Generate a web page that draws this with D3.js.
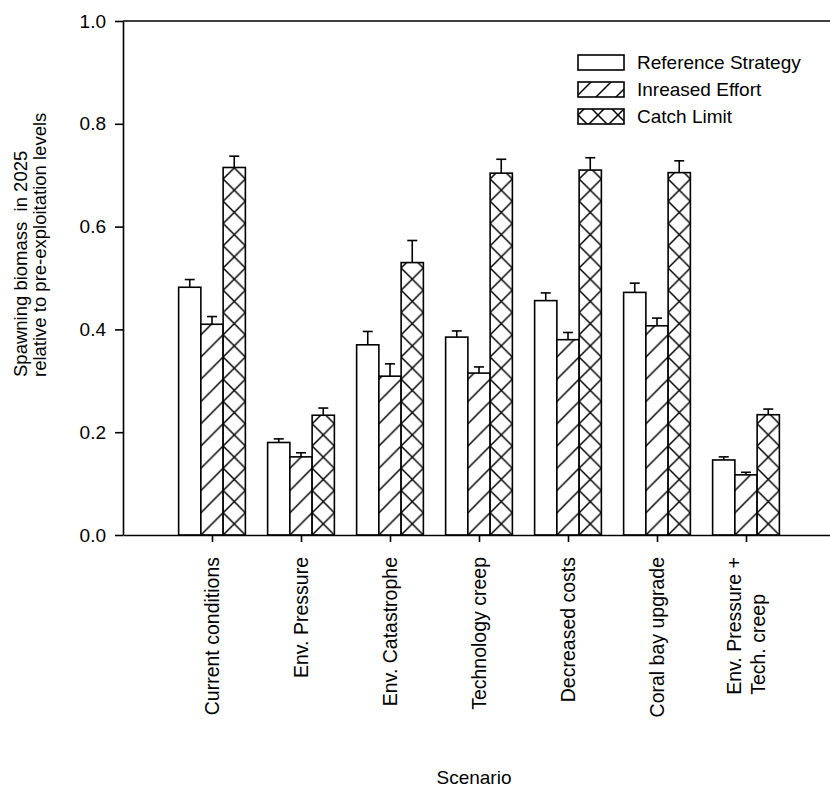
<!DOCTYPE html>
<html>
<head>
<meta charset="utf-8">
<script src="https://cdn.jsdelivr.net/npm/d3@7"></script>
<style>
  html, body { margin: 0; padding: 0; background: #fff; }
  svg { display: block; }
  text { font-family: "Liberation Sans", Arial, sans-serif; fill: #000; }
</style>
</head>
<body>
<div id="chart"></div>
<script>
// ---------- data ----------
const categories = [
  "Current conditions",
  "Env. Pressure",
  "Env. Catastrophe",
  "Technology creep",
  "Decreased costs",
  "Coral bay upgrade",
  "Env. Pressure +\nTech. creep"
];
const seriesNames = ["Reference Strategy", "Inreased Effort", "Catch Limit"];
const referenceValues = [0.482, 0.180, 0.370, 0.385, 0.456, 0.472, 0.146];
const referenceErrors = [0.015, 0.007, 0.026, 0.012, 0.015, 0.018, 0.006];
const increasedValues = [0.410, 0.152, 0.309, 0.315, 0.380, 0.407, 0.117];
const increasedErrors = [0.015, 0.008, 0.024, 0.012, 0.014, 0.015, 0.005];
const catchValues     = [0.715, 0.233, 0.530, 0.704, 0.710, 0.705, 0.234];
const catchErrors     = [0.022, 0.014, 0.043, 0.027, 0.024, 0.023, 0.011];
const yTicks = [0.0, 0.2, 0.4, 0.6, 0.8, 1.0];
const yTitleLines = ["Spawning biomass  in 2025", "relative to pre-exploitation levels"];
const xTitle = "Scenario";

// ---------- setup ----------
const W = 830, H = 787;
const svg = d3.select("#chart").append("svg").attr("width", W).attr("height", H);

const x = d3.scaleLinear().domain([0, 8]).range([123, 835]);
const y = d3.scaleLinear().domain([0, 1]).range([535, 21]);

const barW = x(0.25) - x(0);
const firstLeft = x(1 - 0.375);
const fills = ["white", "url(#hatch)", "url(#cross)"];

// patterns
const defs = svg.append("defs");
function makePattern(id, ox, oy, size, kind) {
  const p = defs.append("pattern").attr("id", id)
    .attr("patternUnits", "userSpaceOnUse")
    .attr("x", ox).attr("y", oy).attr("width", size).attr("height", size);
  p.append("rect").attr("width", size).attr("height", size).attr("fill", "white");
  let d = `M0,${size} L${size},0 M${-2},2 L2,${-2} M${size-2},${size+2} L${size+2},${size-2}`;
  if (kind === "cross") d += ` M0,0 L${size},${size} M${-2},${size-2} L2,${size+2} M${size-2},-2 L${size+2},2`;
  p.append("path").attr("d", d).attr("stroke", "#000").attr("stroke-width", 1.5).attr("fill", "none");
}
makePattern("hatch", firstLeft, y(0), barW, "hatch");
makePattern("cross", firstLeft, y(0), barW, "cross");

const data = [
  { values: referenceValues, errors: referenceErrors },
  { values: increasedValues, errors: increasedErrors },
  { values: catchValues, errors: catchErrors }
];

// ---------- bars ----------
const gBars = svg.append("g");
data.forEach((s, j) => {
  categories.forEach((c, i) => {
    const left = x(i + 1 - 0.375 + j * 0.25);
    const v = s.values[i], e = s.errors[i];
    const cx = left + barW / 2;
    gBars.append("line")
      .attr("x1", cx).attr("x2", cx).attr("y1", y(v)).attr("y2", y(v + e))
      .attr("stroke", "#000").attr("stroke-width", 1.6);
    gBars.append("line")
      .attr("x1", cx - 5).attr("x2", cx + 5).attr("y1", y(v + e)).attr("y2", y(v + e))
      .attr("stroke", "#000").attr("stroke-width", 1.6);
    gBars.append("rect")
      .attr("x", left).attr("y", y(v))
      .attr("width", barW).attr("height", y(0) - y(v))
      .attr("fill", fills[j]).attr("stroke", "#000").attr("stroke-width", 1.6);
  });
});

// ---------- axes ----------
const yAxis = svg.append("g").attr("transform", `translate(${x(0)},0)`)
  .call(d3.axisLeft(y).tickValues(yTicks).tickFormat(d3.format(".1f"))
    .tickSize(8).tickSizeOuter(0).tickPadding(9));
yAxis.selectAll("path, line").attr("stroke", "#000").attr("stroke-width", 1.6);
yAxis.selectAll("text").style("font-size", "19px").attr("font-family", null);

const xAxis = svg.append("g").attr("transform", `translate(0,${y(0)})`)
  .call(d3.axisBottom(x).tickValues(d3.range(1, categories.length + 1)).tickFormat("")
    .tickSize(7).tickSizeOuter(0));
xAxis.selectAll("path, line").attr("stroke", "#000").attr("stroke-width", 1.6);

// top frame line
svg.append("line").attr("x1", x(0)).attr("x2", x(8)).attr("y1", y(1)).attr("y2", y(1))
  .attr("stroke", "#000").attr("stroke-width", 1.6);

// x tick labels (rotated)
const labelTop = 557;
categories.forEach((c, i) => {
  const lines = c.split("\n");
  const cx = x(i + 1);
  const lh = 24;
  const g = svg.append("g");
  const texts = lines.map((ln, k) => {
    const bx = cx + 7 + (k - (lines.length - 1) / 2) * lh;
    return g.append("text").text(ln).style("font-size", "19.5px")
      .attr("data-bx", bx);
  });
  const maxLen = d3.max(texts, t => t.node().getComputedTextLength());
  texts.forEach(t => {
    const bx = +t.attr("data-bx");
    t.attr("text-anchor", "start")
      .attr("transform", `translate(${bx},${labelTop + maxLen}) rotate(-90)`);
  });
});

// y title
yTitleLines.forEach((ln, k) => {
  svg.append("text").text(ln)
    .style("font-size", "18.5px").style("white-space", "pre")
    .attr("text-anchor", "start")
    .attr("transform", `translate(${27 + k * 19},377) rotate(-90)`);
});

// x title
svg.append("text").text(xTitle).style("font-size", "19px")
  .attr("text-anchor", "middle").attr("x", 474).attr("y", 784);

// ---------- legend ----------
const legX = 578, legY = 55, legStep = 27, boxW = 46, boxH = 15;
makePattern("hatchL", legX, legY, 20, "hatch");
makePattern("crossL", legX, legY, 20, "cross");
const legFills = ["white", "url(#hatchL)", "url(#crossL)"];
seriesNames.forEach((name, j) => {
  const yy = legY + j * legStep;
  svg.append("rect").attr("x", legX).attr("y", yy).attr("width", boxW).attr("height", boxH)
    .attr("fill", legFills[j]).attr("stroke", "#000").attr("stroke-width", 1.6);
  svg.append("text").text(name).style("font-size", "19px")
    .attr("x", legX + boxW + 13).attr("y", yy + 14);
});
</script>
</body>
</html>
